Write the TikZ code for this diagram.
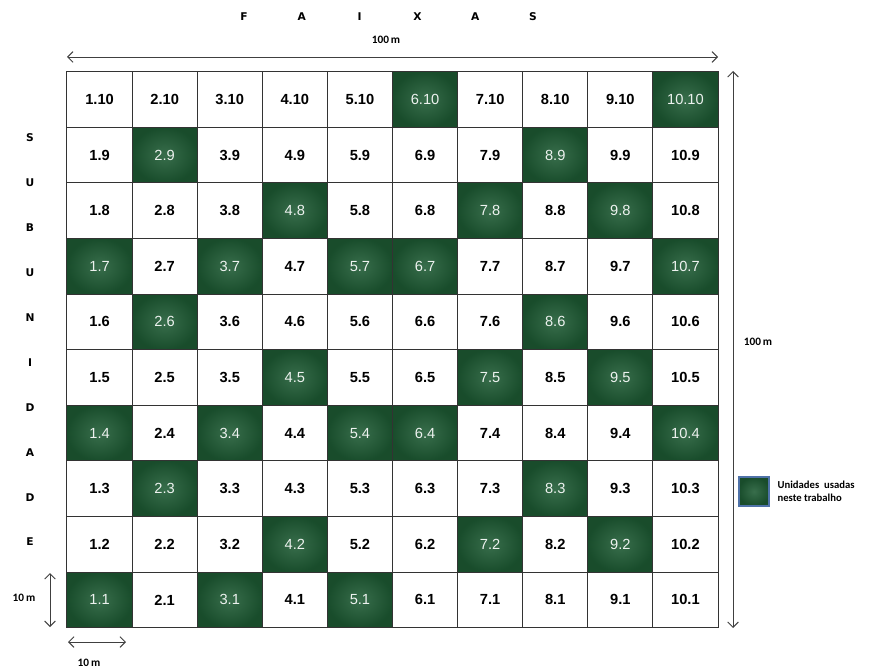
\documentclass[tikz,border=0pt]{standalone}
\usepackage{fontspec}
\setmainfont{Liberation Sans}
\newfontfamily\calibri{Carlito}
\newfontfamily\pesada{DejaVu Sans}
\usetikzlibrary{arrows.meta}
\definecolor{cUsada}{HTML}{1D5A33}
\definecolor{cGrade}{HTML}{333333}
\definecolor{cBorda}{HTML}{4F72A8}
\tikzset{
    parcela/.style={draw=cGrade, line width=0.8pt, minimum width=48.9pt,
                    minimum height=41.7pt, inner sep=0pt, outer sep=0pt,
                    font=\fontsize{11}{13}\selectfont\bfseries},
    usada/.style={parcela, inner color=cUsada!88!white, outer color=cUsada!85!black,
                  text=white!92!cUsada, font=\fontsize{11}{13}\selectfont},
    cota/.style={{Straight Barb[length=4pt,width=8pt]}-{Straight Barb[length=4pt,width=8pt]},
                 line width=0.7pt, black!75},
    letra/.style={font=\pesada\fontsize{8}{9}\selectfont\bfseries, inner sep=1pt},
    medida/.style={font=\calibri\fontsize{8.5}{10}\selectfont\bfseries, inner sep=1pt},
}

\begin{document}
\begin{tikzpicture}[x=0.75pt, y=-0.75pt]
    \useasboundingbox (0,0) rectangle (874,670);

    % parcelas: coluna.linha, as verdes sao as usadas
    \foreach \r/\verdes in {10/{6,10}, 9/{2,8}, 8/{4,7,9}, 7/{1,3,5,6,10},
                            6/{2,8}, 5/{4,7,9}, 4/{1,3,5,6,10}, 3/{2,8},
                            2/{4,7,9}, 1/{1,3,5}} {
        \foreach \c in {1,...,10} {
            \gdef\estilo{parcela}
            \foreach \v in \verdes {\ifnum\v=\c\relax \gdef\estilo{usada}\fi}
            \node[\estilo] (p-\c-\r) at ({67+(\c-0.5)*65.1},{71.7+(10.5-\r)*55.6}) {\c.\r};
        }
    }

    \foreach \l [count=\i] in {F,A,I,X,A,S}
        \node[letra] (f-\i) at ({244+(\i-1)*57.8},17) {\l};
    \foreach \l [count=\i] in {S,U,B,U,N,I,D,A,D,E}
        \node[letra] (s-\i) at (30,{138+(\i-1)*44.9}) {\l};

    % cotas
    \coordinate (topo-e) at (67,57);
    \coordinate (topo-d) at (718,57);
    \draw[cota] (topo-e) -- (topo-d);
    \node[medida] (m-topo) at (386,40) {100\,m};

    \coordinate (lado-c) at (733,71);
    \coordinate (lado-b) at (733,628);
    \draw[cota] (lado-c) -- (lado-b);
    \node[medida] (m-lado) at (758,342) {100\,m};

    \coordinate (pq-c) at (50,573);
    \coordinate (pq-b) at (50,627);
    \draw[cota] (pq-c) -- (pq-b);
    \node[medida] (m-pq) at (24,598) {10\,m};

    \coordinate (pq-e) at (68,642);
    \coordinate (pq-d) at (126,642);
    \draw[cota] (pq-e) -- (pq-d);
    \node[medida] (m-base) at (89,663) {10\,m};

    % legenda
    \node[usada, draw=cBorda, line width=1.5pt, minimum width=23pt,
          minimum height=21.5pt] (leg) at (754,491.5) {};
    \node[medida, anchor=west, align=left, font=\calibri\fontsize{8}{9.75}\selectfont\bfseries]
        (leg-txt) at (776,491) {Unidades\ \ usadas\\neste trabalho};
\end{tikzpicture}
\end{document}
